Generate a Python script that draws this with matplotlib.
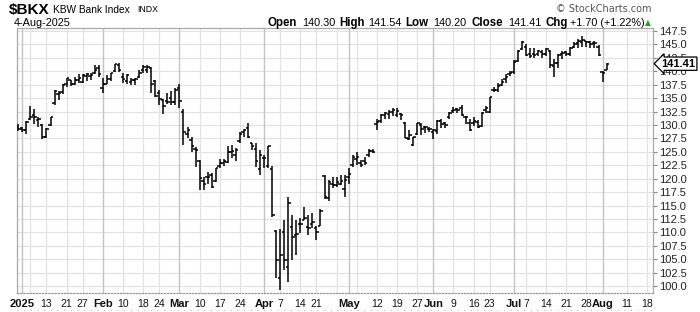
import matplotlib
matplotlib.use("Agg")
import matplotlib.pyplot as plt
import matplotlib.transforms as mtransforms
from matplotlib.lines import Line2D
import numpy as np
import pandas as pd

plt.rcParams['font.family'] = ['Liberation Sans', 'DejaVu Sans']

# ---------------- data ----------------
holidays = ["2025-01-01", "2025-01-09", "2025-01-20", "2025-02-17", "2025-04-18",
            "2025-05-26", "2025-06-19", "2025-07-04"]
calendar = [d.strftime("%Y-%m-%d") for d in pd.bdate_range("2024-12-31", "2025-08-22")
            if d.strftime("%Y-%m-%d") not in holidays]

opens = [129.6,
         129.4, 129.0, 131.2, 131.8, 131.0, 130.0, 127.7, 130.0, 134.0, 135.8, 136.2, 137.7, 138.3, 137.6, 138.3, 138.0, 139.2, 139.2, 139.7, 140.6,
         136.8, 137.7, 138.6, 140.0, 141.2, 139.0, 138.2, 138.0, 138.4, 139.0, 140.2, 140.2, 140.6, 138.1, 135.9, 134.6, 134.4, 135.0, 134.2,
         136.8, 132.5, 128.3, 127.2, 125.6, 123.2, 119.5, 120.3, 120.6, 119.6, 122.3, 123.0, 123.1, 125.0, 124.5, 127.0, 128.6, 129.5, 126.6, 125.6, 121.8,
         123.9, 122.3, 121.8, 110.2, 101.5, 110.0, 103.5, 111.0, 109.5, 111.6, 112.4, 111.0, 111.5, 110.9, 111.2, 120.5, 116.4, 119.0, 118.9, 119.0, 118.0,
         120.3, 122.5, 123.6, 122.9, 123.2, 124.5, 125.2, 130.2, 130.8, 131.8, 132.0, 132.4, 131.8, 132.1, 130.4, 127.4, 126.3, 128.4, 130.0, 129.7, 129.3,
         128.6, 128.8, 130.7, 130.3, 131.4, 132.6, 132.9, 133.2, 131.5, 130.3, 130.4, 130.6, 129.9, 132.8, 132.4, 136.6, 136.6, 137.5, 138.5, 139.4,
         139.8, 142.0, 144.2, 144.5, 143.2, 143.3, 143.2, 143.6, 143.3, 143.8, 141.0, 141.6, 143.3, 143.5, 143.3, 144.5, 145.2, 145.5, 145.6, 145.5, 145.2, 144.6,
         139.9, 140.30]
highs = [130.1,
         129.6, 130.7, 133.5, 132.9, 131.4, 130.2, 129.5, 131.5, 136.5, 136.3, 137.6, 138.8, 138.3, 139.0, 139.4, 139.4, 139.6, 139.7, 141.1, 141.1,
         138.8, 139.3, 139.7, 141.3, 141.5, 139.6, 139.5, 138.7, 138.7, 140.2, 141.1, 141.1, 140.8, 138.3, 136.6, 134.9, 136.0, 136.3, 136.8,
         137.7, 133.0, 129.7, 127.8, 125.9, 123.5, 120.4, 121.3, 121.0, 122.0, 123.6, 123.6, 126.0, 126.3, 125.7, 128.6, 129.2, 130.3, 126.6, 126.6, 125.3,
         124.4, 126.1, 122.4, 110.4, 110.6, 112.3, 116.6, 113.2, 112.3, 112.6, 114.8, 113.2, 113.7, 111.1, 114.3, 120.7, 119.8, 120.4, 120.4, 120.7, 120.7,
         121.9, 124.4, 125.0, 123.4, 124.1, 125.5, 125.5, 131.2, 132.0, 132.5, 132.7, 133.1, 133.1, 132.3, 130.6, 129.1, 127.8, 130.4, 130.4, 129.8, 129.7,
         129.2, 130.9, 131.1, 130.5, 132.5, 133.3, 133.1, 133.7, 131.7, 131.1, 131.4, 130.9, 132.5, 133.5, 135.3, 137.1, 137.8, 138.6, 139.4, 140.1,
         142.1, 143.9, 145.6, 145.0, 144.4, 144.4, 143.9, 143.9, 144.3, 143.9, 142.3, 143.2, 143.7, 143.7, 144.6, 145.4, 146.1, 146.6, 145.7, 145.7, 145.6, 144.9,
         140.1, 141.54]
lows = [128.9,
        128.7, 128.4, 130.9, 130.1, 129.6, 127.3, 127.6, 129.8, 133.7, 134.7, 135.7, 137.1, 137.2, 137.5, 137.8, 137.8, 138.2, 138.3, 139.4, 139.0,
        135.9, 137.7, 138.2, 139.9, 139.9, 137.8, 137.6, 137.4, 137.4, 138.8, 139.7, 139.7, 135.9, 135.2, 133.8, 132.1, 133.9, 133.8, 133.8,
        133.2, 126.3, 127.5, 125.0, 122.2, 117.9, 117.9, 119.1, 118.2, 119.4, 121.9, 122.4, 122.9, 123.8, 123.2, 126.6, 127.8, 127.5, 125.3, 122.2, 120.7,
        121.9, 121.9, 112.9, 101.6, 99.3, 103.0, 100.8, 104.9, 105.8, 109.8, 112.3, 109.5, 110.8, 108.6, 111.1, 116.3, 115.9, 118.2, 118.5, 118.8, 116.6,
        119.1, 122.2, 122.6, 122.1, 122.6, 124.1, 124.7, 129.1, 130.3, 131.2, 131.2, 131.6, 131.4, 130.9, 127.5, 127.2, 126.1, 128.1, 128.1, 128.5, 128.6,
        127.3, 128.3, 129.4, 129.4, 131.2, 132.3, 132.3, 131.7, 130.2, 128.8, 129.8, 129.4, 129.7, 132.2, 132.2, 136.2, 136.2, 137.3, 137.9, 139.1,
        139.4, 141.8, 143.9, 142.9, 142.5, 142.5, 142.9, 142.5, 142.9, 140.7, 138.9, 140.7, 142.3, 142.9, 142.9, 144.3, 144.3, 144.6, 144.6, 144.4, 144.3, 142.9,
        138.0, 140.20]
closes = [129.3,
          129.1, 130.6, 131.5, 131.4, 131.2, 127.8, 129.3, 131.4, 136.3, 136.0, 137.5, 138.7, 137.7, 138.3, 138.7, 139.3, 139.4, 139.3, 140.3, 139.5,
          137.6, 138.5, 139.6, 141.3, 140.3, 138.5, 139.3, 138.3, 138.5, 139.7, 140.8, 140.8, 137.7, 135.4, 134.9, 133.6, 134.3, 134.3, 136.6,
          134.4, 128.6, 129.0, 126.0, 125.4, 120.1, 119.1, 120.4, 118.4, 121.9, 123.0, 123.2, 125.0, 125.2, 125.3, 128.4, 129.1, 127.7, 126.1, 123.2, 124.4,
          123.8, 126.0, 113.2, 104.9, 105.8, 104.9, 115.4, 109.1, 109.7, 111.6, 112.7, 110.8, 112.0, 110.0, 114.0, 116.5, 119.3, 118.8, 119.3, 119.6, 119.8,
          120.9, 124.1, 124.0, 122.6, 122.9, 125.2, 125.0, 130.6, 131.9, 132.2, 132.4, 132.8, 132.6, 131.9, 127.6, 128.1, 127.7, 130.3, 129.2, 129.6, 129.2,
          129.0, 130.8, 130.2, 130.0, 132.3, 132.8, 132.7, 131.9, 131.5, 129.1, 130.8, 129.7, 132.3, 133.1, 135.3, 136.6, 137.3, 138.0, 138.9, 139.6,
          141.8, 143.7, 145.4, 143.0, 142.9, 143.0, 143.7, 143.2, 144.1, 141.1, 141.6, 143.0, 143.4, 143.2, 144.4, 145.0, 145.6, 145.9, 145.4, 145.1, 145.2, 143.1,
          139.71, 141.41]

grid_dates = ["2025-01-02", "2025-01-06", "2025-01-13", "2025-01-21", "2025-01-27",
              "2025-02-03", "2025-02-10", "2025-02-18", "2025-02-24",
              "2025-03-03", "2025-03-10", "2025-03-17", "2025-03-24",
              "2025-04-01", "2025-04-07", "2025-04-14", "2025-04-21", "2025-04-28",
              "2025-05-01", "2025-05-05", "2025-05-12", "2025-05-19", "2025-05-27",
              "2025-06-02", "2025-06-09", "2025-06-16", "2025-06-23",
              "2025-07-01", "2025-07-07", "2025-07-14", "2025-07-21", "2025-07-28",
              "2025-08-01", "2025-08-11", "2025-08-18"]
grid_labels = ["2025", "", "13", "21", "27",
               "Feb", "10", "18", "24",
               "Mar", "10", "17", "24",
               "Apr", "7", "14", "21", "",
               "May", "", "12", "19", "27",
               "Jun", "9", "16", "23",
               "Jul", "7", "14", "21", "28",
               "Aug", "11", "18"]
y_ticks = [100.0, 102.5, 105.0, 107.5, 110.0, 112.5, 115.0, 117.5, 120.0, 122.5, 125.0,
           127.5, 130.0, 132.5, 135.0, 137.5, 140.0, 142.5, 145.0, 147.5]

# ---------------- figure ----------------
W, H = 700, 312
fig = plt.figure(figsize=(W / 100, H / 100), dpi=100)
L, R, T, B = 16.7, 653.3, 28.3, 293.3
ax = fig.add_axes([L / W, 1 - B / H, (R - L) / W, (B - T) / H])

pos = {d: i for i, d in enumerate(calendar)}
x = np.arange(len(closes))

ax.set_xlim(-0.39, 157.6)
ax.set_ylim(98.66, 148.0)

# grid
for v in y_ticks:
    ax.axhline(v, color='#e2e2e2', lw=0.9, zorder=0)
for d, lab in zip(grid_dates, grid_labels):
    month = lab.isalpha() or lab == "2025"
    ax.axvline(pos[d], color='#c4c4c4' if month else '#e2e2e2', lw=1.0 if month else 0.9, zorder=0)

# OHLC bars
lw = 1.1
tick = 0.6
ax.vlines(x, lows, highs, color='black', lw=lw, zorder=3)
ax.hlines(opens, x - tick, x, color='black', lw=lw, zorder=3)
ax.hlines(closes, x, x + tick, color='black', lw=lw, zorder=3)

# axes styling
for s in ['left', 'top', 'right']:
    ax.spines[s].set_color('#a8a8a8')
    ax.spines[s].set_linewidth(0.9)
ax.spines['bottom'].set_color('#999999')
ax.spines['bottom'].set_linestyle((0, (1, 1.5)))
ax.spines['bottom'].set_linewidth(0.9)

ax.yaxis.tick_right()
ax.set_yticks(y_ticks)
ax.set_yticklabels([f"{v:.1f}" for v in y_ticks])
ax.tick_params(axis='y', length=3, width=0.8, color='#888888', pad=1.5, labelsize=8,
               labelcolor='#222222')

lab_pos = [pos[d] for d, l in zip(grid_dates, grid_labels) if l]
lab_txt = [l for l in grid_labels if l]
ax.set_xticks(lab_pos)
ax.set_xticklabels(lab_txt)
ax.tick_params(axis='x', length=0, pad=4, labelsize=7.5, labelcolor='#111111')
for t in ax.get_xticklabels():
    if t.get_text().isalpha() or t.get_text() == "2025":
        t.set_fontweight('bold')
        t.set_fontsize(8)

# faint dotted rule under the date labels
fig.add_artist(Line2D([L / W, R / W], [1 - 309.5 / H, 1 - 309.5 / H], color='#bbbbbb',
                      lw=0.8, linestyle=(0, (1, 5))))

# last price box
trans = mtransforms.blended_transform_factory(ax.transAxes, ax.transData)
ax.text(1.0125, closes[-1], f"{closes[-1]:.2f}", transform=trans, ha='left', va='center',
        fontsize=8, fontweight='bold', color='black', zorder=10, clip_on=False,
        bbox=dict(boxstyle='larrow,pad=0.15', fc='white', ec='black', lw=0.9))

# header
def ftxt(px, py, s, **kw):
    return fig.text(px / W, 1 - py / H, s, va='center', ha='left', **kw)

ftxt(9, 10, "$BKX", fontsize=11, fontweight='bold', color='black')
ftxt(53, 10, "KBW Bank Index", fontsize=7.3, color='black')
ftxt(137, 10, "INDX", fontsize=6.3, color='black')
ftxt(14, 23, "4-Aug-2025", fontsize=7.8, color='black')
fig.text(652 / W, 1 - 9 / H, "\u00a9 StockCharts.com", ha='right', va='center',
         fontsize=7, color='#555555', family='DejaVu Sans')

pieces = ["Open", "140.30", "High", "141.54", "Low", "140.20", "Close", "141.41",
          "Chg", "+1.70 (+1.22%)"]
piece_x = [268, 302, 339, 368, 405, 433, 472, 508, 545, 570]
for s, px in zip(pieces, piece_x):
    bold = s.isalpha()
    ftxt(px, 23, s, fontsize=8.3 if bold else 7.8, fontweight='bold' if bold else 'normal',
         color='black')
ftxt(645, 22.5, "\u25b2", fontsize=5.5, color='#2a9a2a', family='DejaVu Sans')

fig.savefig("out.png", dpi=100)
